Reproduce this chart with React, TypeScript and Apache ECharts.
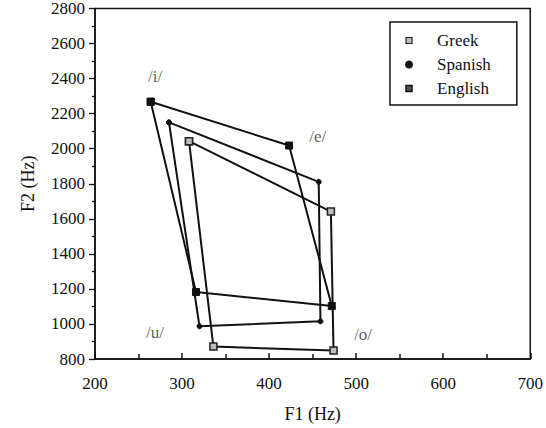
import React, { useEffect, useRef } from 'react';
import * as echarts from 'echarts';

// Vowel order of each polygon: /i/ -> /e/ -> /o/ -> /u/ -> back to /i/
const vowels = ['/i/', '/e/', '/o/', '/u/'];
const greekF1 = [308, 471, 474, 336];
const greekF2 = [2043, 1641, 848, 871];
const spanishF1 = [285, 457, 459, 320];
const spanishF2 = [2150, 1811, 1015, 987];
const englishF1 = [264, 423, 472, 316];
const englishF2 = [2268, 2018, 1102, 1182];
// Where the vowel labels sit, in (F1, F2)
const labelF1 = [269, 456, 508, 269];
const labelF2 = [2411, 2067, 939, 950];

const FONT = '"Liberation Serif", "DejaVu Serif", serif';

function closed(f1: number[], f2: number[]) {
  const pts = f1.map((v, i) => [v, f2[i]]);
  pts.push(pts[0]);
  return pts;
}

export default function App() {
  const ref = useRef<HTMLDivElement>(null);
  useEffect(() => {
    if (!ref.current) return;
    const chart = echarts.init(ref.current, undefined, { renderer: 'svg' });
    const lineStyle = { color: '#111', width: 2 };
    chart.setOption({
      animation: false,
      backgroundColor: '#fff',
      grid: {
        left: 95, right: 15, top: 7, bottom: 61,
        show: true, borderColor: '#111', borderWidth: 1.5, backgroundColor: 'transparent',
      },
      xAxis: {
        type: 'value', min: 200, max: 700, interval: 100,
        name: 'F1 (Hz)', nameLocation: 'middle', nameGap: 46,
        nameTextStyle: { fontFamily: FONT, fontSize: 18, color: '#111' },
        axisLine: { lineStyle: { color: '#111', width: 1.5 } },
        axisTick: { show: true, inside: true, length: 6, lineStyle: { color: '#111', width: 1.5 } },
        minorTick: { show: true, splitNumber: 2, length: 5, lineStyle: { color: '#111', width: 1.5 } },
        axisLabel: { fontFamily: FONT, fontSize: 17, color: '#111', margin: 16, formatter: (v: number) => String(v) },
        splitLine: { show: false },
      },
      yAxis: {
        type: 'value', min: 800, max: 2800, interval: 200,
        name: 'F2 (Hz)', nameLocation: 'middle', nameGap: 58, nameRotate: 90,
        nameTextStyle: { fontFamily: FONT, fontSize: 18, color: '#111' },
        axisLine: { lineStyle: { color: '#111', width: 1.5 } },
        axisTick: { show: true, inside: false, length: 6, lineStyle: { color: '#111', width: 1.3 } },
        minorTick: { show: true, splitNumber: 2, length: 3, lineStyle: { color: '#111', width: 1.3 } },
        axisLabel: { fontFamily: FONT, fontSize: 17, color: '#111', margin: 10, formatter: (v: number) => String(v) },
        splitLine: { show: false },
      },
      legend: {
        orient: 'vertical', left: 390, top: 22,
        itemWidth: 6, itemHeight: 6, itemGap: 5,
        borderColor: '#111', borderWidth: 1.5,
        padding: [9, 26, 7, 15],
        textStyle: { fontFamily: FONT, fontSize: 17, color: '#111', padding: [0, 0, 0, 20], lineHeight: 19 },
        data: [
          { name: 'Greek', icon: 'rect', itemStyle: { color: '#bbb', borderColor: '#222', borderWidth: 1.2 } },
          { name: 'Spanish', icon: 'circle', itemStyle: { color: '#111' } },
          { name: 'English', icon: 'rect', itemStyle: { color: '#555', borderColor: '#111', borderWidth: 1.5 } },
        ],
      },
      series: [
        {
          name: 'Greek', type: 'line', data: closed(greekF1, greekF2),
          symbol: 'rect', symbolSize: 7, showAllSymbol: true,
          itemStyle: { color: '#bbb', borderColor: '#222', borderWidth: 1.5 },
          lineStyle,
        },
        {
          name: 'Spanish', type: 'line', data: closed(spanishF1, spanishF2),
          symbol: 'circle', symbolSize: 5, showAllSymbol: true,
          itemStyle: { color: '#111', borderColor: '#111', borderWidth: 1 },
          lineStyle,
        },
        {
          name: 'English', type: 'line', data: closed(englishF1, englishF2),
          symbol: 'rect', symbolSize: 7, showAllSymbol: true,
          itemStyle: { color: '#111', borderColor: '#111', borderWidth: 1 },
          lineStyle,
        },
        {
          name: 'labels', type: 'scatter', symbolSize: 1,
          itemStyle: { color: 'transparent' },
          data: labelF1.map((v, i) => ({ value: [v, labelF2[i]], name: vowels[i] })),
          label: {
            show: true, position: 'inside', formatter: (p: any) => p.name,
            fontFamily: FONT, fontSize: 17, color: '#333',
          },
          silent: true,
        },
      ],
    });
    return () => chart.dispose();
  }, []);
  return (
    <div
      ref={ref}
      style={{ position: 'fixed', left: 0, top: 0, width: 546, height: 428, background: '#fff' }}
    />
  );
}
